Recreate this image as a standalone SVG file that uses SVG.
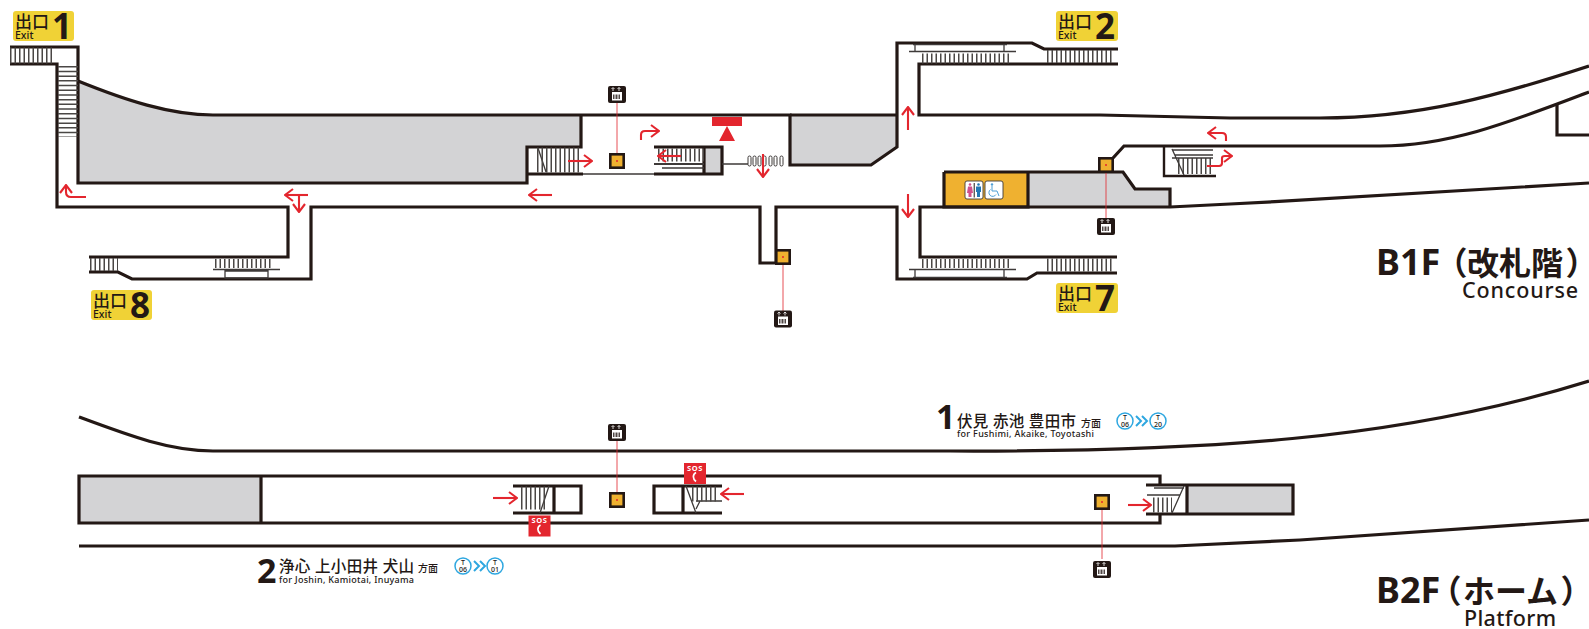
<svg xmlns="http://www.w3.org/2000/svg" width="1589" height="629" viewBox="0 0 1589 629">
<style>
text{font-family:"Noto Sans","Noto Sans CJK JP",sans-serif;fill:#231815}
.w{fill:none;stroke:#231815;stroke-width:2.4}
.t{fill:none;stroke:#231815;stroke-width:3.2}
.n{fill:none;stroke:#3e3a39;stroke-width:1.3}
.g{fill:#d3d3d5;stroke:none}
.sv{fill:none;stroke:#4a4745;stroke-dasharray:1.5 3}
.sh{fill:none;stroke:#4a4745;stroke-dasharray:1.5 3.2}
.r{fill:none;stroke:#e3262e;stroke-width:2.1}
.l{stroke:#e3262e;stroke-width:1;opacity:.8}
.b{font-weight:700}
.by{fill:#f0d236}
.ex{font-size:10.5px;font-weight:500}
.jp{font-size:17px;font-weight:500}
.num{font-size:35px;font-weight:700}
.dj{font-size:15.5px;font-weight:500}
.dm{font-size:10px;font-weight:500}
.de{font-size:9px;font-weight:500}
.fl{font-size:36px;font-weight:700}
.fk{font-size:32px;font-weight:700}
.fp{font-size:32px;font-weight:700;font-family:"Noto Sans CJK JP",sans-serif;font-feature-settings:"palt"}
.fe{font-size:21.5px;font-weight:500}
.c{fill:#fff;stroke:#2ea7e0;stroke-width:1.5}
.ct{font-size:7px;text-anchor:middle;font-weight:500}
.sos{font-size:7.5px;letter-spacing:.6px;font-weight:700;fill:#fff;text-anchor:middle}
</style>
<defs>
<g id="elv"><rect x="-6.700" y="-6.700" width="13.400" height="13.400" fill="#efb130" stroke="#231815" stroke-width="2.600"/></g>
<g id="icon"><rect x="-9" y="-8.500" width="18" height="17" rx="2" fill="#231815"/>
<path d="M-4,-3.500V-6.500M-5.500,-5.500L-4,-7L-2.500,-5.500M2,-3.500V-7M.5,-5.500L2,-7L3.500,-5.500" fill="none" stroke="#fff" stroke-width=".8"/>
<rect x="-5" y="-2.500" width="10" height="8.500" fill="#fff"/><path d="M-3.500,0V4.500M-2,0V4.500M-.5,0V4.500M1,0V4.500M2.500,0V4.500" stroke="#231815" stroke-width=".8"/></g>
<g id="sosb"><rect x="-11" y="-10.500" width="22" height="21" fill="#e3262e"/><text class="sos" y="-3">SOS</text><path d="M1,-1C-2.500,1-2.500,5,1,8" fill="none" stroke="#fff" stroke-width="1.700"/></g>
<marker id="a" viewBox="0 0 11 14" refX="10" refY="7" markerWidth="11" markerHeight="14" markerUnits="userSpaceOnUse" orient="auto"><path d="M2,1L10,7L2,13" fill="none" stroke="#e3262e" stroke-width="2.100"/></marker>
</defs>

<g id="walls-b1f">
<path class="g" d="M78,81C125,100 170,115 213,115H581V147H527V183H78Z"/>
<path class="g" d="M790,115H897V147L871,165H790Z"/>
<path class="g" d="M1028,172H1123L1135,189H1170V207H1028Z"/>
<path class="g" d="M704,148H722V174H704Z"/>
<rect x="944" y="172" width="84" height="35" fill="#efb130"/>
<path class="t" d="M10,47H78V183H527V147H581V115"/>
<path class="t" d="M78,81C125,100 170,115 213,115H790V165H871L897,147V43H1032L1044,49H1118"/>
<path class="t" d="M790,115H897"/>
<path class="t" d="M10,64H57V207H288V257H89"/>
<path class="t" d="M89,272H118L132,279H311V207H760V263H776V207H897V279H1027L1037,273H1117"/>
<path class="t" d="M1117,257H920V207H1170L1230,204C1350,198 1470,189 1589,183"/>
<path class="t" d="M1118,64H919V115H1100L1230,118H1320C1420,118 1500,95 1589,66"/>
<path class="t" d="M1113,158L1124,146H1380C1450,146 1510,122 1589,92"/>
<path class="t" d="M1557,105V135H1589"/>
<path class="t" d="M944,172H1123L1135,189H1170V207M944,172V207H1028V172"/>
<path class="w" d="M1164,146V176H1216"/>
<path class="t" d="M527,174H583M654,174H722V147H654M704,147V174"/>
<path class="n" d="M583,174H654M722,164H748M538,148L546,172M662,168H704"/>
<path d="M654,164H704" fill="none" stroke="#3e3a39" stroke-width="2"/>
</g>

<g id="walls-b2f">
<path class="g" d="M79,476H261V523H79Z"/>
<path class="g" d="M1188,485H1293V514H1188Z"/>
<path class="t" d="M79,417C130,436 170,451 213,451H950C1200,452 1400,440 1589,381"/>
<path class="t" d="M79,546H1175L1300,540L1589,520"/>
<path class="t" d="M1146,485H1160V476H79V523H1160V514H1146M1160,485H1293V514H1160M261,476V523M1187,485V514"/>
<path class="t" d="M513,486H581V513H513M554,486V513"/>
<path class="t" d="M722,486H654V513H722M683,486V513"/>
<path class="n" d="M549,486L540,513M686,486L696,513M1184,486L1172,513M696,501H722M1147,495H1180M1154,488H1184M696,509L700,501"/>
</g>

<g id="stairs">
<path class="sv" stroke-width="16" d="M10,55.500H52"/>
<path class="sh" stroke-width="20" d="M68,66V137"/>
<path class="sv" stroke-width="25" d="M537,160H581"/>
<path class="sv" stroke-width="13" d="M658,155H704"/>
<path class="sv" stroke-width="10" d="M922,58.500H1011"/>
<path class="sv" stroke-width="13" d="M1047,56.500H1113"/>
<path class="sv" stroke-width="9" d="M922,263.500H1011"/>
<path class="sv" stroke-width="13" d="M1047,265H1113"/>
<path class="sv" stroke-width="13" d="M90,264.500H118"/>
<path class="sv" stroke-width="9" d="M215,263.500H273"/>
<path class="sv" stroke-width="16" d="M1178,166H1212"/>
<path class="sv" stroke-width="23" d="M521,498H545"/>
<path class="sv" stroke-width="15" d="M692,494H718"/>
<path class="sv" stroke-width="15" d="M1153,505H1172"/>
<path class="n" d="M909,51.500H1016M913,44.500H1007M915,45V51M1004,45V51M909,269.500H1016M913,277.500H1007M915,270V277M1004,270V277M213,269.500H280M225,271H268V278H225ZM1172,149L1184,175M1172,150H1213M1175,155H1213M1172,158H1213"/>
</g>

<g id="gates" fill="#fff" stroke="#3e3a39" stroke-width="1">
<rect x="748" y="156" width="3" height="10" rx="1.500"/><rect x="753" y="156" width="3" height="10" rx="1.500"/><rect x="758" y="156" width="3" height="10" rx="1.500"/><rect x="763" y="156" width="3" height="10" rx="1.500"/><rect x="769" y="156" width="3" height="10" rx="1.500"/><rect x="774" y="156" width="3" height="10" rx="1.500"/><rect x="780" y="156" width="3" height="10" rx="1.500"/>
</g>

<g id="connectors">
<path class="l" d="M617,103V161M1106,165V218M783,257V311M617,441V500M1102,502V559"/>
</g>

<g id="arrows">
<path class="r" marker-end="url(#a)" d="M86,197H71Q66,197 66,192V185" />
<path class="r" marker-end="url(#a)" d="M308,195H285"/>
<path class="r" marker-end="url(#a)" d="M299,195V212"/>
<path class="r" marker-end="url(#a)" d="M568,161H592"/>
<path class="r" marker-end="url(#a)" d="M681,156H658"/>
<path class="r" marker-end="url(#a)" d="M641,140V135Q641,131 645,131H659"/>
<path class="r" marker-end="url(#a)" d="M763,154V177"/>
<path class="r" marker-end="url(#a)" d="M552,195H529"/>
<path class="r" marker-end="url(#a)" d="M908,130V107"/>
<path class="r" marker-end="url(#a)" d="M908,194V217"/>
<path class="r" marker-end="url(#a)" d="M1226,141V137Q1226,133 1222,133H1208"/>
<path class="r" marker-end="url(#a)" d="M1207,166H1219Q1222,166 1222,163V158Q1222,156 1225,156H1232"/>
<path class="r" marker-end="url(#a)" d="M493,498H517"/>
<path class="r" marker-end="url(#a)" d="M744,494H721"/>
<path class="r" marker-end="url(#a)" d="M1128,505H1151"/>
</g>

<g id="elevator-1f-a"><use href="#elv" x="617" y="161"/><circle cx="617" cy="161" r="1" fill="#e3262e"/><use href="#icon" x="617" y="94.500"/></g>
<g id="elevator-1f-b"><use href="#elv" x="783" y="257"/><circle cx="783" cy="257" r="1" fill="#e3262e"/><use href="#icon" x="783" y="319"/></g>
<g id="elevator-1f-c"><use href="#elv" x="1106" y="165"/><circle cx="1106" cy="165" r="1" fill="#e3262e"/><use href="#icon" x="1106" y="226.500"/></g>
<g id="elevator-2f-a"><use href="#elv" x="617" y="500"/><circle cx="617" cy="500" r="1" fill="#e3262e"/><use href="#icon" x="617" y="432.500"/></g>
<g id="elevator-2f-b"><use href="#elv" x="1102" y="502"/><circle cx="1102" cy="502" r="1" fill="#e3262e"/><use href="#icon" x="1102" y="569.500"/></g>

<g id="info-sign"><rect x="712" y="117" width="30" height="9" fill="#e3262e"/><path d="M727,126L735,141H719Z" fill="#e3262e"/></g>

<g id="toilet">
<rect x="965" y="181" width="18" height="18" rx="2" fill="#fff" stroke="#3e3a39" stroke-width=".9"/>
<circle cx="970" cy="184.500" r="1.300" fill="#d0508c"/><path d="M968,186.500H972L973,193H971.500V197H968.500V193H967Z" fill="#d0508c"/>
<rect x="973.700" y="183" width="1" height="14.500" fill="#231815"/>
<circle cx="978.500" cy="184.500" r="1.300" fill="#2277b5"/><path d="M976,186.500H981V192H980V197H977V192H976Z" fill="#2277b5"/>
<rect x="985" y="181" width="18" height="18" rx="2" fill="#fff" stroke="#3e3a39" stroke-width=".9"/>
<circle cx="992" cy="184.500" r="1.200" fill="#4f9fd6"/><path d="M992,186V191H997L999,196M990.500,189.500A3.800,3.800 0 1 0 996,194.500" fill="none" stroke="#4f9fd6" stroke-width="1"/>
</g>

<g id="exit-1"><rect class="by" x="13" y="11" width="61" height="30" rx="3"/><text class="jp" x="15" y="28">出口</text><text class="ex" x="15" y="39">Exit</text><text class="num" x="52" y="39">1</text></g>
<g id="exit-2"><rect class="by" x="1056" y="11" width="62" height="30" rx="3"/><text class="jp" x="1058" y="28">出口</text><text class="ex" x="1058" y="39">Exit</text><text class="num" x="1095" y="39">2</text></g>
<g id="exit-7"><rect class="by" x="1056" y="283" width="62" height="30" rx="3"/><text class="jp" x="1058" y="300">出口</text><text class="ex" x="1058" y="311">Exit</text><text class="num" x="1095" y="311">7</text></g>
<g id="exit-8"><rect class="by" x="91" y="290" width="61" height="30" rx="3"/><text class="jp" x="93" y="307">出口</text><text class="ex" x="93" y="318">Exit</text><text class="num" x="130" y="318">8</text></g>

<g id="sos-a"><use href="#sosb" x="695" y="473.500"/></g>
<g id="sos-b"><use href="#sosb" x="539.500" y="526"/></g>

<g id="dir-1">
<text class="b" font-size="34" x="936" y="429">1</text>
<text class="dj" x="957" y="427" textLength="119">伏見 赤池 豊田市</text>
<text class="dm" x="1081" y="427">方面</text>
<text class="de" x="957" y="437" textLength="137">for Fushimi, Akaike, Toyotashi</text>
<circle class="c" cx="1125" cy="421" r="8"/><text class="ct" x="1125" y="420">T</text><text class="ct" x="1125" y="427">06</text>
<path d="M1136,416L1141,421L1136,426M1142,416L1147,421L1142,426" fill="none" stroke="#2ea7e0" stroke-width="2"/>
<circle class="c" cx="1158" cy="421" r="8"/><text class="ct" x="1158" y="420">T</text><text class="ct" x="1158" y="427">20</text>
</g>
<g id="dir-2">
<text class="b" font-size="34" x="257" y="583">2</text>
<text class="dj" x="279" y="572" textLength="135">浄心 上小田井 犬山</text>
<text class="dm" x="418" y="572">方面</text>
<text class="de" x="279" y="583" textLength="135">for Joshin, Kamiotai, Inuyama</text>
<circle class="c" cx="463" cy="566" r="8"/><text class="ct" x="463" y="565">T</text><text class="ct" x="463" y="572">06</text>
<path d="M474,561L479,566L474,571M480,561L485,566L480,571" fill="none" stroke="#2ea7e0" stroke-width="2"/>
<circle class="c" cx="495" cy="566" r="8"/><text class="ct" x="495" y="565">T</text><text class="ct" x="495" y="572">01</text>
</g>

<g id="floor-b1f"><text class="fl" x="1376" y="275">B1F<tspan class="fp" x="1450">（</tspan><tspan class="fk" x="1467">改札階</tspan><tspan class="fp" x="1567">）</tspan></text><text class="fe" x="1462" y="298" textLength="116">Concourse</text></g>
<g id="floor-b2f"><text class="fl" x="1376" y="603">B2F<tspan class="fp" x="1444">（</tspan><tspan class="fk" x="1463">ホーム</tspan><tspan class="fp" x="1562">）</tspan></text><text class="fe" x="1464" y="626" textLength="92">Platform</text></g>
</svg>
